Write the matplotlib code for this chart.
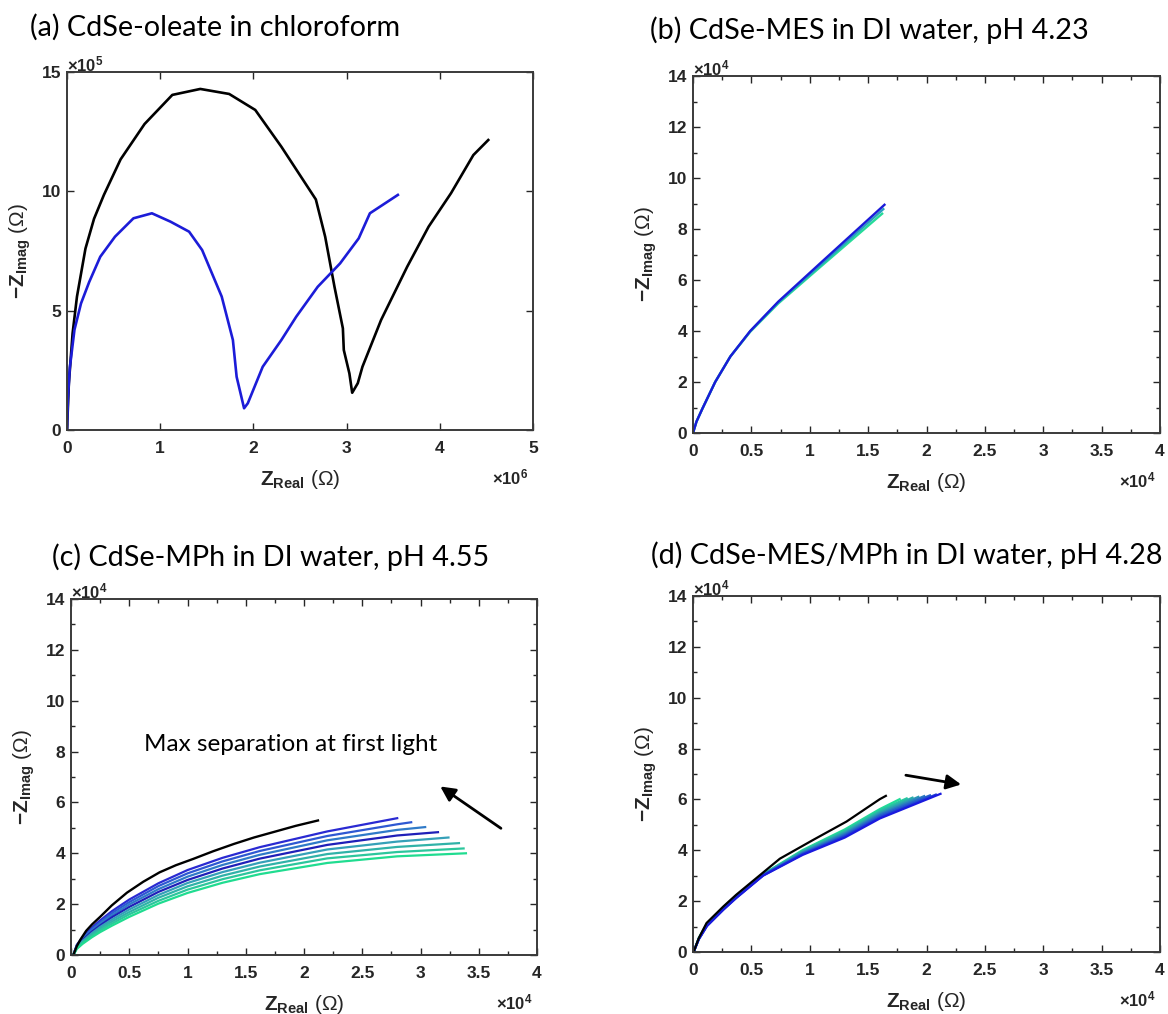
import matplotlib
matplotlib.use("Agg")
import matplotlib.pyplot as plt
from matplotlib.ticker import MultipleLocator, FuncFormatter

plt.rcParams['font.family'] = ['Liberation Sans', 'DejaVu Sans']
plt.rcParams['font.weight'] = 'bold'
plt.rcParams['mathtext.fontset'] = 'custom'
plt.rcParams['mathtext.rm'] = 'Liberation Sans'
plt.rcParams['mathtext.bf'] = 'Liberation Sans:bold'
plt.rcParams['mathtext.it'] = 'Liberation Sans:italic'

# ---- (a) CdSe-oleate in chloroform (x in 1e6 ohm, y in 1e5 ohm)
a_black_x = [0, 0.02, 0.06, 0.107, 0.198, 0.29, 0.396, 0.575, 0.832, 1.13, 1.43, 1.74, 2.02, 2.30,
             2.67, 2.77, 2.87, 2.96, 2.97, 3.03, 3.06, 3.12, 3.17, 3.37, 3.65, 3.88, 4.12, 4.36, 4.52]
a_black_y = [0, 1.96, 4.05, 5.59, 7.6, 8.85, 9.85, 11.34, 12.82, 14.04, 14.29, 14.08, 13.41, 11.87,
             9.66, 8.1, 6.0, 4.26, 3.35, 2.37, 1.56, 1.96, 2.65, 4.61, 6.84, 8.52, 9.92, 11.52, 12.15]
a_blue_x = [0, 0.01, 0.03, 0.08, 0.15, 0.238, 0.357, 0.515, 0.713, 0.911, 1.11, 1.31, 1.45, 1.66,
            1.78, 1.82, 1.90, 1.94, 2.10, 2.30, 2.46, 2.69, 2.93, 3.13, 3.25, 3.55]
a_blue_y = [0, 1.3, 2.6, 4.2, 5.3, 6.2, 7.26, 8.1, 8.87, 9.08, 8.73, 8.31, 7.54, 5.59,
            3.77, 2.23, 0.91, 1.12, 2.65, 3.77, 4.75, 6.0, 6.98, 8.03, 9.08, 9.85]

# ---- (b) CdSe-MES (x, y in 1e4 ohm)
b_x = [0, 0.03, 0.08, 0.19, 0.32, 0.49, 0.73, 1.1, 1.64]
b_curves_y = [
    [0, 0.45, 0.95, 2.0, 3.0, 3.97, 5.08, 6.55, 8.60],
    [0, 0.45, 0.95, 2.0, 3.0, 3.99, 5.12, 6.62, 8.78],
    [0, 0.45, 0.95, 2.0, 3.0, 4.0, 5.15, 6.70, 8.95],
]
b_ends_x = [1.62, 1.63, 1.64]
b_colors = ['#25dc98', '#2a9ec0', '#1a1ad8']

# ---- (c) CdSe-MPh (x, y in 1e4 ohm)
c_black_x = [0.02, 0.05, 0.08, 0.13, 0.18, 0.25, 0.35, 0.48, 0.62, 0.76, 0.9, 1.05, 1.22, 1.4,
             1.57, 1.75, 1.93, 2.12]
c_black_y = [0, 0.35, 0.6, 0.95, 1.2, 1.5, 1.95, 2.45, 2.88, 3.25, 3.53, 3.78, 4.08, 4.37,
             4.62, 4.85, 5.08, 5.29]
c_x = [0.02, 0.05, 0.1, 0.18, 0.25, 0.35, 0.5, 0.75, 1.0, 1.3, 1.62, 2.2]
c_curves_y = [
    [0, 0.40, 0.70, 1.08, 1.36, 1.72, 2.18, 2.82, 3.34, 3.82, 4.24, 4.86],
    [0, 0.38, 0.66, 1.03, 1.29, 1.64, 2.08, 2.71, 3.21, 3.68, 4.09, 4.68],
    [0, 0.35, 0.63, 0.97, 1.23, 1.56, 1.99, 2.59, 3.08, 3.54, 3.94, 4.51],
    [0, 0.33, 0.59, 0.92, 1.16, 1.48, 1.89, 2.48, 2.95, 3.40, 3.79, 4.33],
    [0, 0.31, 0.55, 0.86, 1.10, 1.39, 1.79, 2.36, 2.83, 3.26, 3.63, 4.15],
    [0, 0.29, 0.51, 0.81, 1.03, 1.31, 1.69, 2.25, 2.70, 3.12, 3.48, 3.97],
    [0, 0.26, 0.48, 0.75, 0.97, 1.23, 1.60, 2.13, 2.57, 2.98, 3.33, 3.80],
    [0, 0.24, 0.44, 0.70, 0.90, 1.15, 1.50, 2.02, 2.44, 2.84, 3.18, 3.62],
]
c_tail_x = [[2.80], [2.8, 2.92], [2.8, 3.04], [2.8, 3.15], [2.8, 3.24], [2.8, 3.33], [2.8, 3.37], [2.8, 3.39]]
c_tail_y = [[5.38], [5.14, 5.22], [4.92, 5.03], [4.70, 4.83], [4.46, 4.62], [4.25, 4.40], [4.05, 4.19], [3.88, 4.00]]
c_colors = ['#2a2ad2', '#2e58d2', '#2f7ac8', '#1f1fb8', '#35a0b8', '#30b2a8', '#2cc69c', '#20dc90']

# ---- (d) CdSe-MES/MPh (x, y in 1e4 ohm)
d_black_x = [0.005, 0.05, 0.116, 0.26, 0.37, 0.744, 1.03, 1.315, 1.60, 1.652]
d_black_y = [0, 0.55, 1.14, 1.79, 2.25, 3.67, 4.41, 5.13, 6.01, 6.14]
d_x = [0.005, 0.05, 0.12, 0.26, 0.37, 0.6, 0.94, 1.3, 1.6]
d_curves_y = [
    [0, 0.55, 1.12, 1.76, 2.22, 3.06, 4.01, 4.82, 5.62],
    [0, 0.54, 1.11, 1.75, 2.21, 3.05, 3.98, 4.77, 5.57],
    [0, 0.54, 1.09, 1.73, 2.19, 3.04, 3.96, 4.73, 5.51],
    [0, 0.53, 1.08, 1.72, 2.18, 3.03, 3.93, 4.68, 5.46],
    [0, 0.52, 1.06, 1.70, 2.16, 3.03, 3.90, 4.64, 5.41],
    [0, 0.51, 1.05, 1.69, 2.15, 3.02, 3.87, 4.59, 5.36],
    [0, 0.51, 1.03, 1.67, 2.13, 3.01, 3.85, 4.55, 5.30],
    [0, 0.50, 1.02, 1.66, 2.12, 3.00, 3.82, 4.50, 5.25],
]
d_ends_x = [1.77, 1.83, 1.88, 1.93, 1.98, 2.03, 2.08, 2.12]
d_ends_y = [6.01, 6.04, 6.07, 6.10, 6.13, 6.16, 6.19, 6.22]
d_colors = ['#22dc98', '#26c8a0', '#2ab0aa', '#2c98b4', '#2a7cc0', '#2660cc', '#2040d6', '#1a1ade']

titles = ['(a) CdSe-oleate in chloroform', '(b) CdSe-MES in DI water, pH 4.23',
          '(c) CdSe-MPh in DI water, pH 4.55', '(d) CdSe-MES/MPh in DI water, pH 4.28']

W, H = 1168, 1014
fig = plt.figure(figsize=(W / 100, H / 100), dpi=100)

def box(l, t, r, b):
    return [l / W, 1 - b / H, (r - l) / W, (b - t) / H]

ax_a = fig.add_axes(box(67, 72, 533, 430))
ax_b = fig.add_axes(box(693, 76, 1160, 433))
ax_c = fig.add_axes(box(71, 599, 537, 955))
ax_d = fig.add_axes(box(693, 596, 1160, 952))

ink = '#262626'

def style(ax, xmax, ymax, xstep, ystep, xs, ys, xexp, yexp, minor=None):
    ax.set_xlim(0, xmax)
    ax.set_ylim(0, ymax)
    ax.xaxis.set_major_locator(MultipleLocator(xstep))
    ax.yaxis.set_major_locator(MultipleLocator(ystep))
    if minor:
        ax.xaxis.set_minor_locator(MultipleLocator(minor[0]))
        ax.yaxis.set_minor_locator(MultipleLocator(minor[1]))
    ax.xaxis.set_major_formatter(FuncFormatter(lambda v, p: f'{v / xs:g}'))
    ax.yaxis.set_major_formatter(FuncFormatter(lambda v, p: f'{v / ys:g}'))
    ax.tick_params(which='both', direction='in', top=True, right=True, colors=ink,
                   labelsize=12.5, width=1.0)
    ax.tick_params(which='major', length=5)
    ax.tick_params(which='minor', length=3)
    ax.tick_params(axis='x', pad=8)
    ax.tick_params(axis='y', pad=4)
    for s in ax.spines.values():
        s.set_linewidth(1.4)
        s.set_color('#3a3a3a')
    ax.set_xlabel(r'$\mathbf{Z_{Real}}$ (Ω)', fontsize=15, color=ink, fontweight='normal')
    ax.set_ylabel(r'$\mathbf{-Z_{Imag}}$ (Ω)', fontsize=15, color=ink, fontweight='normal')
    ax.xaxis.label.set_va('center')
    ax.yaxis.label.set_va('center')
    ax.xaxis.set_label_coords(0.5, -0.138)
    ax.yaxis.set_label_coords(-0.10, 0.5)
    ax.text(0.99, -0.133, r'$\times$10$^{%d}$' % xexp, transform=ax.transAxes,
            ha='right', va='center', fontsize=12, color=ink)
    ax.text(0.0, 1.022, r'$\times$10$^{%d}$' % yexp, transform=ax.transAxes,
            ha='left', va='center', fontsize=12, color=ink)

# (a)
ax_a.plot([v * 1e6 for v in a_black_x], [v * 1e5 for v in a_black_y], color='black', lw=1.9)
ax_a.plot([v * 1e6 for v in a_blue_x], [v * 1e5 for v in a_blue_y], color='#1c1cd8', lw=1.9)
style(ax_a, 5e6, 15e5, 1e6, 5e5, 1e6, 1e5, 6, 5)

# (b)
for ys, xe, col in zip(b_curves_y, b_ends_x, b_colors):
    xx = b_x[:-1] + [xe]
    ax_b.plot([v * 1e4 for v in xx], [v * 1e4 for v in ys], color=col, lw=1.7)
style(ax_b, 4e4, 14e4, 0.5e4, 2e4, 1e4, 1e4, 4, 4, minor=(0.25e4, 1e4))

# (c)
for ys, tx, ty, col in zip(c_curves_y, c_tail_x, c_tail_y, c_colors):
    xx = c_x + tx
    yy = ys + ty
    ax_c.plot([v * 1e4 for v in xx], [v * 1e4 for v in yy], color=col, lw=1.6)
ax_c.plot([v * 1e4 for v in c_black_x], [v * 1e4 for v in c_black_y], color='black', lw=1.7)
style(ax_c, 4e4, 14e4, 0.5e4, 2e4, 1e4, 1e4, 4, 4, minor=(0.25e4, 1e4))
ax_c.text(0.63e4, 8.26e4, 'Max separation at first light', fontsize=17.5, va='center',
          family=['Lato', 'DejaVu Sans'], fontweight='normal', color='black')
ax_c.annotate('', xy=(3.15e4, 6.69e4), xytext=(3.71e4, 4.92e4),
              arrowprops=dict(arrowstyle='-|>', color='black', lw=2, mutation_scale=22))

# (d)
for ys, xe, ye, col in zip(d_curves_y, d_ends_x, d_ends_y, d_colors):
    xx = d_x + [xe]
    yy = ys + [ye]
    ax_d.plot([v * 1e4 for v in xx], [v * 1e4 for v in yy], color=col, lw=1.6)
ax_d.plot([v * 1e4 for v in d_black_x], [v * 1e4 for v in d_black_y], color='black', lw=1.6)
style(ax_d, 4e4, 14e4, 0.5e4, 2e4, 1e4, 1e4, 4, 4, minor=(0.25e4, 1e4))
ax_d.annotate('', xy=(2.32e4, 6.57e4), xytext=(1.80e4, 6.97e4),
              arrowprops=dict(arrowstyle='-|>', color='black', lw=2, mutation_scale=22))

# panel titles
for (tx, ty), t in zip([(29.6, 27), (650.5, 30), (52, 557), (651, 555)], titles):
    fig.text(tx / W, 1 - ty / H, t, fontsize=20.7, va='center', ha='left', fontweight='normal',
             family=['Lato', 'DejaVu Sans'], color='black')

fig.savefig('out.png', dpi=100, facecolor='white')
